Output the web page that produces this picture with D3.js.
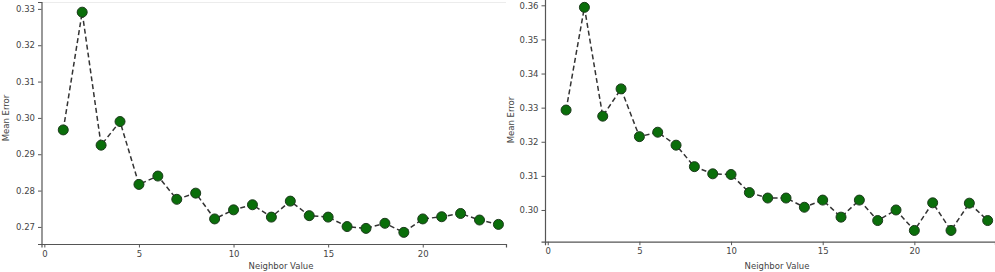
<!DOCTYPE html>
<html>
<head>
<meta charset="utf-8">
<script src="https://cdn.jsdelivr.net/npm/d3@7"></script>
<style>
  html, body { margin: 0; padding: 0; background: #fff; }
  svg { display: block; }
  text { font-family: "DejaVu Sans", sans-serif; fill: #444; }
</style>
</head>
<body>
<svg id="chart" width="995" height="272"></svg>
<script>
const neighbors = d3.range(1, 25);
const errorsLeft = [0.2967, 0.3291, 0.2925, 0.2990, 0.2817, 0.2840, 0.2776, 0.2793,
  0.2722, 0.2747, 0.2761, 0.2727, 0.2771, 0.2731, 0.2727, 0.2701, 0.2696, 0.2710,
  0.2685, 0.2722, 0.2728, 0.2737, 0.2719, 0.2707];
const errorsRight = [0.3293, 0.3594, 0.3275, 0.3355, 0.3215, 0.3228, 0.3190, 0.3127,
  0.3106, 0.3104, 0.3051, 0.3035, 0.3035, 0.3008, 0.3029, 0.2979, 0.3029, 0.2969,
  0.3000, 0.2940, 0.3021, 0.2940, 0.3020, 0.2969];
const xTicks = [0, 5, 10, 15, 20];
const yTicksLeft = [0.27, 0.28, 0.29, 0.30, 0.31, 0.32, 0.33];
const yTicksRight = [0.30, 0.31, 0.32, 0.33, 0.34, 0.35, 0.36];

const svg = d3.select("#chart");

function panel(cfg) {
  const g = svg.append("g");
  const x = d3.scaleLinear().domain(cfg.xDomain).range([cfg.left, cfg.right]);
  const y = d3.scaleLinear().domain(cfg.yDomain).range([cfg.bottom, cfg.top]);

  if (cfg.topLine) {
    g.append("line").attr("x1", cfg.left).attr("x2", cfg.right)
      .attr("y1", 2.5).attr("y2", 2.5).attr("stroke", "#ececec").attr("stroke-width", 1);
  }

  const xa = g.append("g").attr("transform", `translate(0,${cfg.bottom})`)
    .call(d3.axisBottom(x).tickValues(xTicks).tickFormat(d3.format("d")).tickSizeOuter(0).tickSize(3.5).tickPadding(3));
  const ya = g.append("g").attr("transform", `translate(${cfg.left},0)`)
    .call(d3.axisLeft(y).tickValues(cfg.yTicks).tickFormat(d3.format(".2f")).tickSizeOuter(0).tickSize(3.5).tickPadding(3));
  [xa, ya].forEach(a => {
    a.select(".domain").attr("stroke", "#555").attr("stroke-width", 1.2);
    a.selectAll(".tick line").attr("stroke", "#555");
    a.selectAll(".tick text").style("font-size", "8.5px").attr("fill", "#444");
  });

  const data = neighbors.map((k, i) => ({ k, v: cfg.values[i] }));
  const line = d3.line().x(d => x(d.k)).y(d => y(d.v));
  g.append("path").datum(data).attr("d", line)
    .attr("fill", "none").attr("stroke", "#333").attr("stroke-width", 1.5)
    .attr("stroke-dasharray", "5,3");
  g.selectAll("circle").data(data).join("circle")
    .attr("cx", d => x(d.k)).attr("cy", d => y(d.v)).attr("r", 5)
    .attr("fill", "#0a6e0a").attr("stroke", "#1c3a1c").attr("stroke-width", 1);

  g.append("text").attr("x", cfg.xLabelX).attr("y", 268.5).attr("text-anchor", "middle")
    .style("font-size", "8.5px").text("Neighbor Value");
  g.append("text").attr("transform", `translate(${cfg.yLabelX},${cfg.yLabelY}) rotate(-90)`)
    .attr("text-anchor", "middle").style("font-size", "8.5px").text("Mean Error");
}

panel({
  left: 41.5, right: 506, top: 2, bottom: 244,
  xDomain: [-0.15, 24.4], yDomain: [0.2653, 0.3319],
  values: errorsLeft, yTicks: yTicksLeft, topLine: true,
  xLabelX: 281, yLabelX: 9, yLabelY: 118
});
panel({
  left: 545, right: 995, top: -3.9, bottom: 241.7,
  xDomain: [-0.15, 24.4], yDomain: [0.2907, 0.3627],
  values: errorsRight, yTicks: yTicksRight, topLine: false,
  xLabelX: 777, yLabelX: 514, yLabelY: 120
});
</script>
</body>
</html>
